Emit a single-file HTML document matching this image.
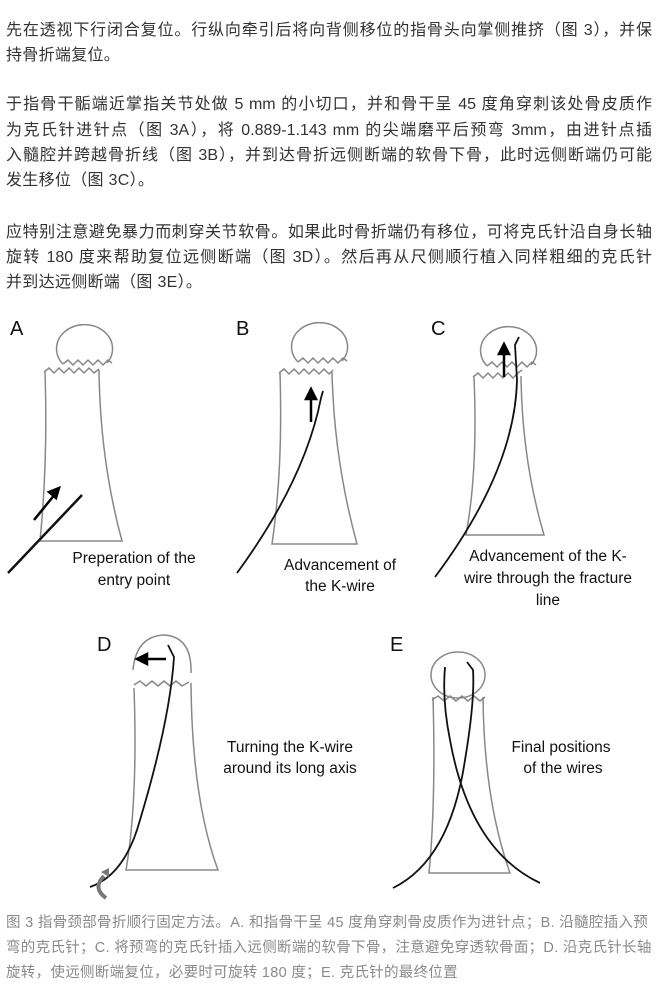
<!DOCTYPE html>
<html><head><meta charset="utf-8"><style>
body{margin:0;width:656px;height:996px;background:#fff;position:relative;overflow:hidden;font-family:"Liberation Sans","Noto Sans CJK SC",sans-serif}
.t{position:absolute;left:6px;white-space:nowrap;font-size:16px;color:#333;letter-spacing:0.3px;line-height:25px}
.f{width:646px;white-space:normal;text-align:justify;text-align-last:justify;text-justify:inter-character;letter-spacing:0;height:25px;overflow:hidden}
.c{position:absolute;left:6px;white-space:nowrap;font-size:14.5px;color:#8a8a8a;letter-spacing:0.3px;line-height:25px}
svg{position:absolute;left:0;top:0}
</style></head><body>
<div class="t f" style="top:18px">先在透视下行闭合复位。行纵向牵引后将向背侧移位的指骨头向掌侧推挤（图 3），并保</div>
<div class="t" style="top:43px">持骨折端复位。</div>
<div class="t f" style="top:92px">于指骨干骺端近掌指关节处做 5 mm 的小切口，并和骨干呈 45 度角穿刺该处骨皮质作</div>
<div class="t f" style="top:118px">为克氏针进针点（图 3A），将 0.889-1.143 mm 的尖端磨平后预弯 3mm，由进针点插</div>
<div class="t f" style="top:143px">入髓腔并跨越骨折线（图 3B），并到达骨折远侧断端的软骨下骨，此时远侧断端仍可能</div>
<div class="t" style="top:168px">发生移位（图 3C）。</div>
<div class="t f" style="top:220px">应特别注意避免暴力而刺穿关节软骨。如果此时骨折端仍有移位，可将克氏针沿自身长轴</div>
<div class="t f" style="top:245px">旋转 180 度来帮助复位远侧断端（图 3D）。然后再从尺侧顺行植入同样粗细的克氏针</div>
<div class="t" style="top:270px">并到达远侧断端（图 3E）。</div>

<svg width="656" height="996" viewBox="0 0 656 996" font-family="Liberation Sans, sans-serif">
<g fill="none" stroke="#888" stroke-width="1.5">
<path d="M63,364 A28,24 0 1 1 107,363"/>
<path d="M63,364 l5,-4 5,5 5,-5 5,5 5,-5 5,5 5,-5 5,5 5,-5 4,3"/>
<path d="M44,372 l5,-4 5,5 5,-5 5,5 5,-5 5,5 5,-5 5,5 5,-5 5,5 5,-4"/>
<path d="M45,372 Q48,460 40,541 L122,541 Q100,460 99,370"/>
<path d="M298,362 A28,24 0 1 1 342,361"/>
<path d="M298,362 l5,-4 5,5 5,-5 5,5 5,-5 5,5 5,-5 5,5 5,-5 4,3"/>
<path d="M279,373 l5,-4 5,5 5,-5 5,5 5,-5 5,5 5,-5 5,5 5,-5 5,5 4,-4"/>
<path d="M280,373 Q283,470 272,544 L357,544 Q334,460 332,372"/>
<path d="M487,366 A28,24 0 1 1 531,365"/>
<path d="M487,366 l5,-4 5,5 5,-5 5,5 5,-5 5,5 5,-5 5,5 5,-5 4,3"/>
<path d="M473,377 l5,-4 5,5 5,-5 5,5 5,-5 5,5 5,-5 5,5 5,-5 4,-3"/>
<path d="M474,377 Q478,470 466,535 L544,535 Q522,460 521,376"/>
<path d="M133,670 Q136,637 163,635 Q192,636 191,673"/>
<path d="M134,685 l6,-4 6,5 6,-5 6,5 6,-5 6,5 6,-5 6,5 7,-4"/>
<path d="M134,688 Q138,800 126,870 L218,870 Q192,800 191,683"/>
<ellipse cx="458" cy="675" rx="27" ry="23"/>
<path d="M432,700 l6,-4 6,5 6,-5 6,5 6,-5 6,5 6,-5 6,5 5,-4"/>
<path d="M433,697 Q436,800 429,873 L510,873 Q484,800 483,697"/>
</g>
<g fill="none" stroke="#111" stroke-width="1.8">
<line x1="8" y1="573" x2="82" y2="495" stroke-width="2.5"/>
<path d="M237,573 Q305,480 321,398 L323,391"/>
<path d="M435,577 Q515,470 517,380 L515,345 L519,337"/>
<path d="M90,887 Q125,875 140,820 Q170,720 174,657 L168,645"/>
<path d="M540,883 Q470,850 450,740 Q442,700 445,667"/>
<path d="M393,888 Q450,860 465,760 Q475,700 473,670 L467,662"/>
</g>
<g stroke="#000" stroke-width="2.5" fill="#000">
<line x1="34" y1="520" x2="56" y2="493"/><path d="M59,488 l-10,4 7,6z"/>
<line x1="311" y1="422" x2="311" y2="396"/><path d="M311,389 l-5,10 10,0z"/>
<line x1="504" y1="377" x2="504" y2="351"/><path d="M504,344 l-5,10 10,0z"/>
<line x1="166" y1="659" x2="143" y2="659"/><path d="M137,659 l10,-5 0,10z"/>
</g>
<path d="M104,876 Q92,888 106,898" fill="none" stroke="#777" stroke-width="4"/>
<path d="M101,872 l8,-4 0,9z" fill="#777"/>
<g font-size="20" fill="#111">
<text x="10" y="335">A</text><text x="236" y="335">B</text><text x="431" y="335">C</text>
<text x="97" y="651">D</text><text x="390" y="651">E</text>
</g>
<g font-size="15.5" fill="#111" text-anchor="middle">
<text x="134" y="563">Preperation of the</text><text x="134" y="585">entry point</text>
<text x="340" y="570">Advancement of</text><text x="340" y="591">the K-wire</text>
<text x="548" y="561">Advancement of the K-</text><text x="548" y="583">wire through the fracture</text><text x="548" y="605">line</text>
<text x="290" y="752">Turning the K-wire</text><text x="290" y="773">around its long axis</text>
<text x="561" y="752">Final positions</text><text x="563" y="773">of the wires</text>
</g>
</svg>

<div class="c" style="top:911px">图 3 指骨颈部骨折顺行固定方法。A. 和指骨干呈 45 度角穿刺骨皮质作为进针点；B. 沿髓腔插入预</div>
<div class="c" style="top:936px">弯的克氏针；C. 将预弯的克氏针插入远侧断端的软骨下骨，注意避免穿透软骨面；D. 沿克氏针长轴</div>
<div class="c" style="top:961px">旋转，使远侧断端复位，必要时可旋转 180 度；E. 克氏针的最终位置</div>
</body></html>
